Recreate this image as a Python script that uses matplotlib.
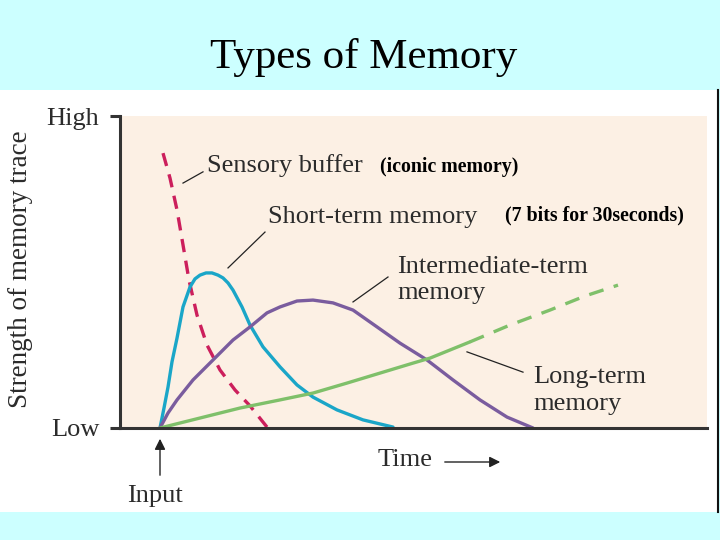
import matplotlib
matplotlib.use("Agg")
import matplotlib.pyplot as plt
from matplotlib.patches import Rectangle, FancyArrowPatch
from matplotlib.lines import Line2D

# time after input (arbitrary units) and trace strength (0 = Low, 100 = High)
sensory_t = [0.3, 1.0, 1.7, 2.3, 2.9, 3.7, 4.7, 6.0, 7.5, 9.0, 10.7]
sensory_s = [88.1, 80.1, 69.9, 58.7, 47.4, 36.2, 26.6, 18.6, 12.2, 7.1, 0.3]

short_t = [0.0, 0.4, 0.8, 1.2, 1.7, 2.3, 3.0, 3.5, 4.0, 4.6, 5.2, 5.8, 6.3, 6.8,
           7.3, 8.2, 9.0, 10.3, 12.0, 13.7, 15.3, 17.7, 20.3, 23.3]
short_s = [0.0, 6.4, 13.1, 21.2, 28.8, 38.8, 45.2, 47.8, 49.0, 49.7, 49.7, 49.0,
           48.1, 46.5, 44.2, 38.8, 33.0, 26.0, 19.6, 13.8, 9.9, 5.8, 2.6, 0.3]

inter_t = [0.0, 0.8, 1.7, 3.3, 5.3, 7.3, 9.0, 10.7, 12.0, 13.7, 15.3, 17.3, 19.3,
           21.7, 24.0, 26.7, 29.3, 32.0, 34.7, 37.3]
inter_s = [0.0, 4.8, 9.0, 15.4, 21.8, 28.2, 32.4, 36.9, 38.8, 40.7, 41.0, 40.1,
           37.8, 32.4, 27.2, 21.8, 15.4, 9.0, 3.5, 0.0]

long_t = [0.0, 4.0, 8.0, 12.0, 15.3, 18.7, 22.0, 25.3, 27.0, 29.0, 31.0]
long_s = [0.0, 3.2, 6.4, 9.0, 11.2, 14.4, 17.6, 20.8, 22.4, 25.0, 27.6]
long_proj_t = [31.0, 35.0, 39.0, 42.5, 45.8]
long_proj_s = [27.6, 33.0, 37.8, 42.3, 45.8]

W, H = 720, 540


def fx(px):
    return px / W


def fy(py):
    return 1 - py / H


fig = plt.figure(figsize=(7.2, 5.4), dpi=100)
fig.patch.set_facecolor("#ccffff")

# white picture panel
fig.patches.append(Rectangle((0, fy(512)), fx(717), fy(90) - fy(512),
                             transform=fig.transFigure, facecolor="white",
                             edgecolor="none", zorder=-5))
fig.lines.append(Line2D([fx(718), fx(718)], [fy(90), fy(512)],
                        transform=fig.transFigure, color="#111111", lw=1.5))

fig.text(fx(364), fy(68), "Types of Memory", family="Liberation Serif",
         fontsize=31, ha="center", va="baseline", color="black")

ax = fig.add_axes([fx(120), fy(428), fx(707) - fx(120), fy(116) - fy(428)])
ax.set_zorder(2)
ax.set_facecolor("#fcf0e4")
ax.set_xlim(-4, 54.7)
ax.set_ylim(0, 100)
for side in ["top", "right"]:
    ax.spines[side].set_visible(False)
for side in ["left", "bottom"]:
    ax.spines[side].set_color("#333333")
    ax.spines[side].set_linewidth(2.2)
ax.set_xticks([])
ax.set_yticks([0, 100])
ax.set_yticklabels(["Low", "High"], family="Liberation Serif", fontsize=19,
                   color="#2b2b2b")
ax.tick_params(axis="y", direction="out", length=7, width=2.2,
               color="#333333", pad=8)

lw = 2.4
solid = dict(lw=lw, solid_joinstyle="round", solid_capstyle="round", clip_on=False)
ax.plot(sensory_t, sensory_s, color="#cc1f5c", lw=lw, dashes=(4.0, 2.6),
        clip_on=False)
ax.plot(short_t, short_s, color="#1aa6c8", **solid)
ax.plot(inter_t, inter_s, color="#7a5c9e", **solid)
ax.plot(long_t, long_s, color="#7fc06a", **solid)
ax.plot(long_proj_t, long_proj_s, color="#7fc06a", lw=lw, dashes=(4.5, 3.2))

# leader lines
ax.plot([2.3, 4.3], [78.5, 82.1], color="#222222", lw=0.9)
ax.plot([6.8, 10.5], [51.3, 62.8], color="#222222", lw=0.9)
ax.plot([19.3, 22.8], [40.4, 48.4], color="#222222", lw=0.9)
ax.plot([30.7, 36.3], [24.4, 17.9], color="#222222", lw=0.9)

lab = dict(family="Liberation Serif", fontsize=19, color="#2b2b2b",
           va="baseline", ha="left", zorder=5)
fig.text(fx(207), fy(172), "Sensory buffer", **lab)
fig.text(fx(268), fy(223), "Short-term memory", **lab)
fig.text(fx(397), fy(273), "Intermediate-term", **lab)
fig.text(fx(397), fy(299), "memory", **lab)
fig.text(fx(533), fy(383), "Long-term", **lab)
fig.text(fx(533), fy(410), "memory", **lab)
fig.text(fx(378), fy(466), "Time", **lab)
fig.text(fx(127), fy(502), "Input", **lab)

bold = dict(family="Liberation Serif", fontsize=14.3, fontweight="bold",
            color="black", va="baseline", ha="left", zorder=5)
fig.text(fx(380), fy(172), "(iconic memory)", **bold)
fig.text(fx(505), fy(220), "(7 bits for 30seconds)", **bold)

fig.text(fx(21), fy(269), "Strength of memory trace", family="Liberation Serif",
         fontsize=19.5, color="#2b2b2b", rotation=90, ha="center", va="center")

fig.patches.append(FancyArrowPatch((fx(442), fy(462)), (fx(503), fy(462)),
                                   transform=fig.transFigure, arrowstyle="-|>",
                                   mutation_scale=16, color="#222222", lw=1.0))
fig.patches.append(FancyArrowPatch((fx(160), fy(478)), (fx(160), fy(436)),
                                   transform=fig.transFigure, arrowstyle="-|>",
                                   mutation_scale=16, color="#222222", lw=1.0))

fig.savefig("out.png", dpi=100, facecolor=fig.get_facecolor())
